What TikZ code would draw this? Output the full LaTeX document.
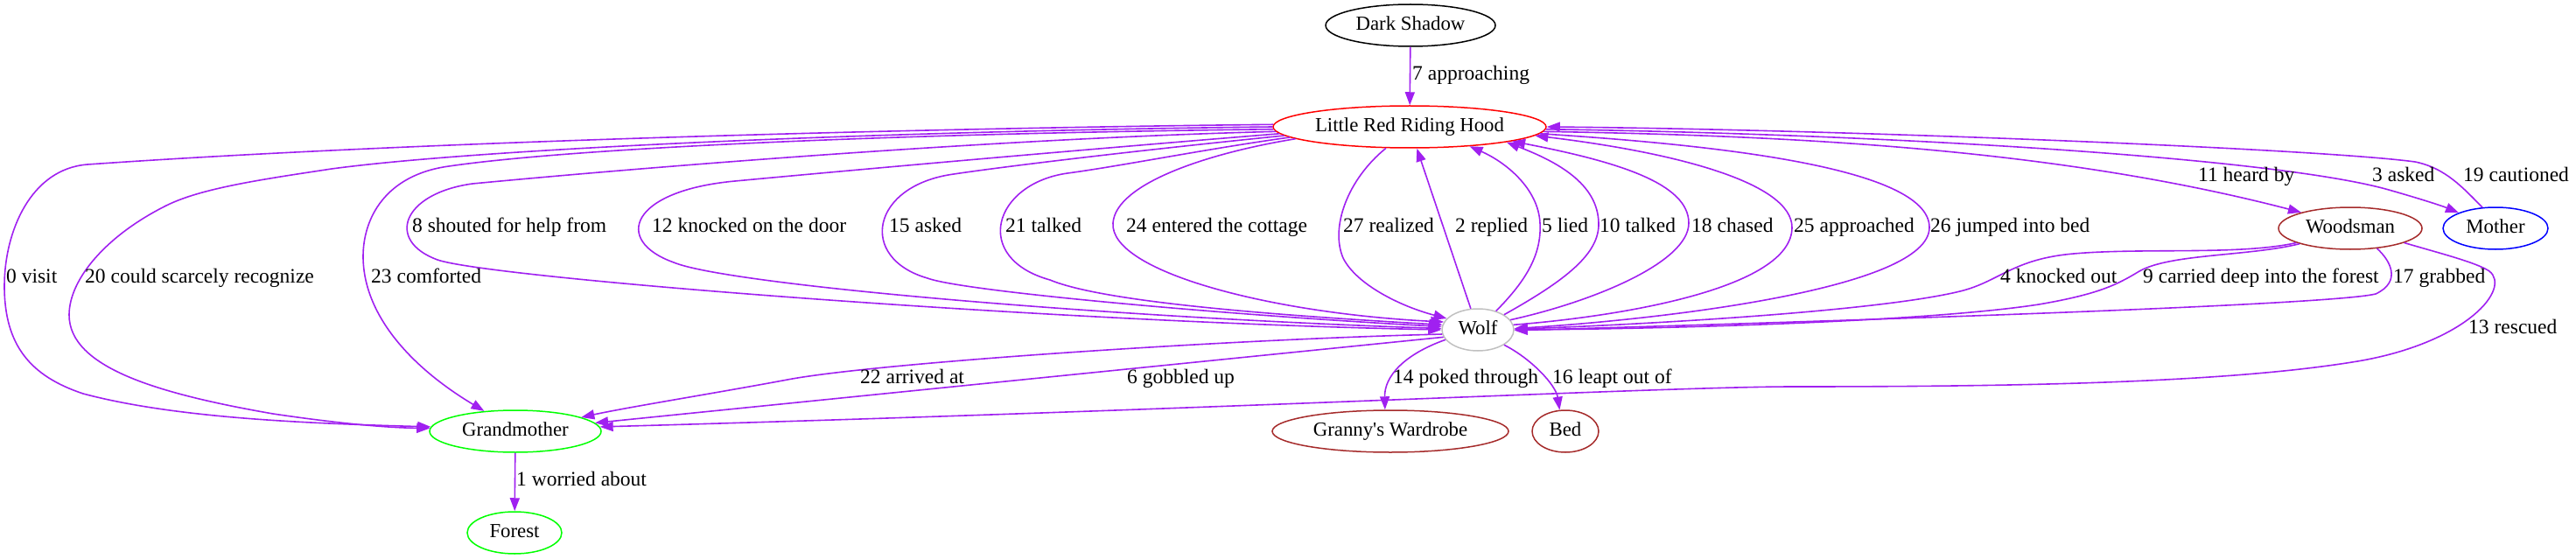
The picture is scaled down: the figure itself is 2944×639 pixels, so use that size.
\documentclass[tikz,border=0pt]{standalone}
\usepackage{fontspec}
\setmainfont{Liberation Serif}
\newfontfamily\gfont{Liberation Serif}
\usetikzlibrary{shapes.geometric,arrows.meta}
\definecolor{epurple}{HTML}{A020F0}
\definecolor{ebrown}{HTML}{A52A2A}
\definecolor{egreen}{HTML}{00FF00}
\definecolor{egray}{HTML}{C0C0C0}
\begin{document}
\begin{tikzpicture}[x=1pt,y=-1pt,
 nd/.style={ellipse, draw, line width=1.5pt, minimum height=48pt, inner sep=0pt, text height=16pt, text depth=5pt, font=\gfont\fontsize{22.8}{26}\selectfont},
 ed/.style={draw=epurple, line width=1.6pt, -{Triangle[length=15pt,width=11pt]}},
 lb/.style={anchor=west, inner sep=0pt, text height=16pt, text depth=5pt, font=\gfont\fontsize{23.5}{27}\selectfont}]
\useasboundingbox (0,0) rectangle (2944,639);
% nodes
\node[nd, draw=black, minimum width=194pt] (ds) at (1612,29) {Dark Shadow};
\node[nd, draw=red, minimum width=312pt] (lrrh) at (1611,145) {Little Red Riding Hood};
\node[nd, draw=egray, minimum width=82pt] (wolf) at (1689,377) {Wolf};
\node[nd, draw=ebrown, minimum width=270pt] (gw) at (1589,493) {Granny's Wardrobe};
\node[nd, draw=ebrown, minimum width=76pt] (bed) at (1789,493) {Bed};
\node[nd, draw=egreen, minimum width=196pt] (gm) at (589,493) {Grandmother};
\node[nd, draw=egreen, minimum width=108pt] (forest) at (588,609) {Forest};
\node[nd, draw=ebrown, minimum width=164pt] (wood) at (2686,261) {Woodsman};
\node[nd, draw=blue, minimum width=120pt] (mother) at (2852,261) {Mother};
% straight edges
\draw[ed] (ds) -- (lrrh);
\draw[ed] (wolf) -- (lrrh);
\draw[ed] (gm) -- (forest);
% LRRH -> Grandmother
\draw[ed] (lrrh.179) .. controls (1100,146) and (500,160) .. (100,188) .. controls (35,193) and (5,265) .. (5,327) .. controls (5,395) and (35,430) .. (95,450) .. controls (200,478) and (350,484) .. (gm.177);
\draw[ed] (lrrh.180) .. controls (1000,150) and (550,170) .. (379,193) .. controls (300,205) and (230,215) .. (190,235) .. controls (120,270) and (79,320) .. (79,360) .. controls (79,420) and (180,450) .. (312,473) .. controls (400,486) and (450,489) .. (gm.178);
\draw[ed] (lrrh.181) .. controls (1000,153) and (650,170) .. (513,190) .. controls (440,200) and (415,250) .. (415,293) .. controls (415,360) and (470,420) .. (gm.147);
% LRRH -> Wolf (left side)
\draw[ed] (lrrh.182) .. controls (1150,158) and (750,190) .. (540,210) .. controls (460,221) and (440,275) .. (500,297) .. controls (560,318) and (1200,368) .. (wolf.180);
\draw[ed] (lrrh.183) .. controls (1250,170) and (1000,192) .. (840,207) .. controls (720,218) and (700,275) .. (770,300) .. controls (830,325) and (1250,362) .. (wolf.178);
\draw[ed] (lrrh.184) .. controls (1300,172) and (1150,190) .. (1090,199) .. controls (995,212) and (980,295) .. (1060,318) .. controls (1100,333) and (1400,360) .. (wolf.175);
\draw[ed] (lrrh.185) .. controls (1380,170) and (1280,190) .. (1220,198) .. controls (1135,210) and (1110,295) .. (1200,320) .. controls (1260,345) and (1450,360) .. (wolf.172);
\draw[ed] (lrrh.186) .. controls (1380,175) and (1275,210) .. (1272,255) .. controls (1268,310) and (1450,358) .. (wolf.167);
\draw[ed] (lrrh.222) .. controls (1540,205) and (1520,260) .. (1535,295) .. controls (1550,325) and (1600,350) .. (wolf.160);
% Wolf -> LRRH (right side)
\draw[ed] (wolf.46) .. controls (1745,320) and (1762,290) .. (1760,255) .. controls (1758,215) and (1720,185) .. (lrrh.342);
\draw[ed] (wolf.30) .. controls (1790,320) and (1828,290) .. (1827,255) .. controls (1826,210) and (1780,185) .. (lrrh.351);
\draw[ed] (wolf.17) .. controls (1820,345) and (1930,300) .. (1930,255) .. controls (1930,210) and (1850,185) .. (lrrh.352);
\draw[ed] (wolf.8) .. controls (1850,362) and (2048,330) .. (2048,260) .. controls (2048,210) and (1920,175) .. (lrrh.356);
% LRRH -> Wolf (26)
\draw[ed] (lrrh.357) .. controls (1950,165) and (2205,190) .. (2205,260) .. controls (2205,330) and (1900,365) .. (wolf.2);
% Woodsman -> Wolf
\draw[ed] (wood.195) .. controls (2560,292) and (2450,283) .. (2370,290) .. controls (2300,296) and (2285,322) .. (2240,333) .. controls (2150,355) and (1900,370) .. (wolf.1);
\draw[ed] (wood.197) .. controls (2570,293) and (2480,290) .. (2445,310) .. controls (2420,325) and (2400,336) .. (2330,348) .. controls (2200,368) and (1900,376) .. (wolf.0);
\draw[ed] (wood.323) .. controls (2732,298) and (2745,322) .. (2715,336) .. controls (2660,350) and (2000,370) .. (wolf.359);
% Woodsman -> Grandmother
\draw[ed] (wood.345) .. controls (2790,290) and (2830,300) .. (2845,310) .. controls (2870,330) and (2820,390) .. (2700,412) .. controls (2550,438) and (2300,442) .. (2050,442) .. controls (1900,442) and (1400,468) .. (gm.3);
% LRRH -> Woodsman, Mother; Mother -> LRRH
\draw[ed] (lrrh.358) .. controls (2050,155) and (2350,170) .. (wood.162);
\draw[ed] (lrrh.359) .. controls (2150,153) and (2600,180) .. (2730,217) .. controls (2765,227) and (2790,235) .. (mother.157);
\draw[ed] (mother.122) .. controls (2815,215) and (2795,192) .. (2760,185) .. controls (2650,170) and (2100,148) .. (lrrh.0);
% Wolf -> others
\draw[ed] (wolf.187) .. controls (1400,388) and (1000,415) .. (900,434) .. controls (820,449) and (720,465) .. (gm.12);
\draw[ed] (wolf.192) -- (gm.6);
\draw[ed] (wolf.197) .. controls (1605,405) and (1582,430) .. (gw.104);
\draw[ed] (wolf.330) .. controls (1750,410) and (1778,440) .. (bed.105);
% labels
\node[lb] (l7) at (1614,86) {7 approaching};
\node[lb] (l0) at (7,318) {0 visit};
\node[lb] (l20) at (97,318) {20 could scarcely recognize};
\node[lb] (l23) at (424,318) {23 comforted};
\node[lb] (l8) at (471,260) {8 shouted for help from};
\node[lb] (l12) at (745,260) {12 knocked on the door};
\node[lb] (l15) at (1016,260) {15 asked};
\node[lb] (l21) at (1149,260) {21 talked};
\node[lb] (l24) at (1287,260) {24 entered the cottage};
\node[lb] (l27) at (1535,260) {27 realized};
\node[lb] (l2) at (1663,260) {2 replied};
\node[lb] (l5) at (1762,260) {5 lied};
\node[lb] (l10) at (1828,260) {10 talked};
\node[lb] (l18) at (1933,260) {18 chased};
\node[lb] (l25) at (2050,260) {25 approached};
\node[lb] (l26) at (2206,260) {26 jumped into bed};
\node[lb] (l11) at (2512,202) {11 heard by};
\node[lb] (l3) at (2711,202) {3 asked};
\node[lb] (l19) at (2815,202) {19 cautioned};
\node[lb] (l4) at (2286,318) {4 knocked out};
\node[lb] (l9) at (2449,318) {9 carried deep into the forest};
\node[lb] (l17) at (2735,318) {17 grabbed};
\node[lb] (l13) at (2821,376) {13 rescued};
\node[lb] (l22) at (983,433) {22 arrived at};
\node[lb] (l6) at (1288,433) {6 gobbled up};
\node[lb] (l14) at (1592,433) {14 poked through};
\node[lb] (l16) at (1774,433) {16 leapt out of};
\node[lb] (l1) at (590,550) {1 worried about};
\end{tikzpicture}
\end{document}
